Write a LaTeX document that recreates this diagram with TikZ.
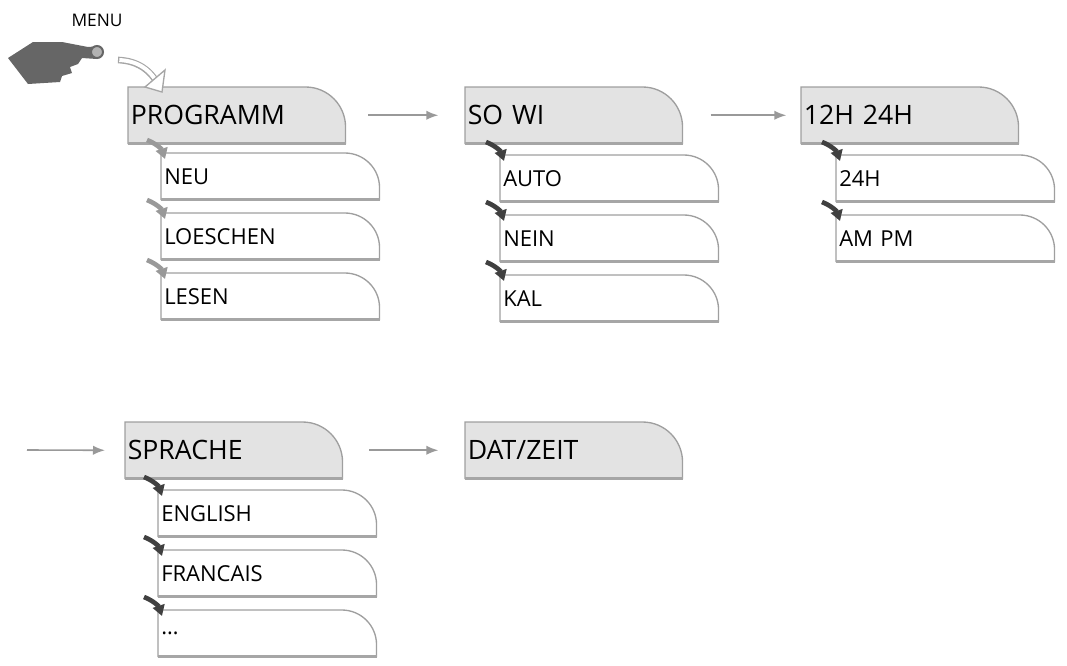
\documentclass[tikz,border=0pt]{standalone}
\usepackage{fontspec}
\setmainfont{Open Sans}
\usetikzlibrary{arrows.meta}
\begin{document}
\begin{tikzpicture}[x=0.75pt,y=-0.75pt,
 hd/.style={rectangle,anchor=north west,minimum width=217*0.75pt,minimum height=56*0.75pt,inner xsep=0.5pt,inner ysep=2pt,font=\fontsize{20}{22}\selectfont,align=left,text width=212*0.75pt},
 sb/.style={rectangle,anchor=north west,minimum width=218*0.75pt,minimum height=46*0.75pt,inner xsep=1pt,inner ysep=2pt,font=\fontsize{16.5}{18}\selectfont,align=left,text width=212*0.75pt},
 flow/.style={draw=gray!80,line width=1.2pt,-{Latex[length=9pt,width=7pt]}},
 tk/.style={line width=3.5pt,draw=#1,-{Triangle[length=8pt,width=9pt]}}]
\useasboundingbox (0,0) rectangle (1067,665);
\newcommand\outl[3]{\draw[draw=gray!75,line width=1pt,fill=#2] (#1.south west) -- (#1.north west) [rounded corners=#3]-- (#1.north east) [sharp corners]-- (#1.south east) -- cycle;
 \draw[gray!70,line width=1.6pt] (#1.south west)--(#1.south east);}
% headers
\node[hd] (prog) at (128,87) {};
\node[hd] (sowi) at (465,87) {};
\node[hd] (h12) at (801,87) {};
\node[hd] (spr) at (125,422) {};
\node[hd] (dat) at (465,422) {};
\foreach \n in {prog,sowi,h12,spr,dat}{\outl{\n}{gray!22}{30}}
\node[hd] at (128,87) {PROGRAMM};
\node[hd] at (465,87) {SO WI};
\node[hd] at (801,87) {12H 24H};
\node[hd] at (125,422) {SPRACHE};
\node[hd] at (465,422) {DAT/ZEIT};
% subs
\foreach \nm/\x/\y/\t in {a1/161/153/NEU,a2/161/213/LOESCHEN,a3/161/273/LESEN,
 b1/500/155/AUTO,b2/500/215/NEIN,b3/500/275/KAL,
 c1/836/155/24H,c2/836/215/AM PM,
 d1/158/490/ENGLISH,d2/158/550/FRANCAIS,d3/158/610/{\ldots}}{
 \node[sb] (\nm) at (\x,\y) {};
 \outl{\nm}{white}{26}
 \node[sb] at (\x,\y) {\t};}
% small arrows
\foreach \nm in {a1,a2,a3}{\draw[tk=gray!80] ([shift={(-14,-13)}]\nm.north west) to[bend left=25] ([shift={(4,6)}]\nm.north west);}
\foreach \nm in {b1,b2,b3,c1,c2,d1,d2,d3}{\draw[tk=black!75] ([shift={(-14,-13)}]\nm.north west) to[bend left=25] ([shift={(4,6)}]\nm.north west);}
% flow arrows
\draw[flow] ([xshift=17]prog.east) -- ([xshift=-20]sowi.west);
\draw[flow] ([xshift=21]sowi.east) -- ([xshift=-11]h12.west);
\coordinate (in) at (27,450);
\draw[flow] (in) -- ([xshift=-15]spr.west);
\draw[flow] ([xshift=20]spr.east) -- ([xshift=-20]dat.west);
% menu
\node[font=\fontsize{13}{15}\selectfont] (menu) at (97,20) {MENU};
\fill[gray!80!black] (8,58) -- (33,42) -- (62,42) -- (88,47) -- (100,46) -- (104,52) -- (97,59) -- (82,58) -- (78,64) -- (70,67) -- (72,73) -- (62,76) -- (60,82) -- (28,84) -- cycle;
\draw[gray!80!black,line width=1.5pt,fill=gray!60] (97,52) circle (6);
\coordinate (hs) at (118,60);
\coordinate (he) at (162,92);
\draw[gray!70,line width=5pt] (hs) to[bend left=30] ([shift={(-3,-6)}]he);
\draw[white,line width=3pt] ([xshift=1]hs) to[bend left=30] ([shift={(-3,-6)}]he);
\draw[gray!70,fill=white,line width=1pt] (he) -- (145,87) -- (165,70) -- cycle;
\end{tikzpicture}
\end{document}
